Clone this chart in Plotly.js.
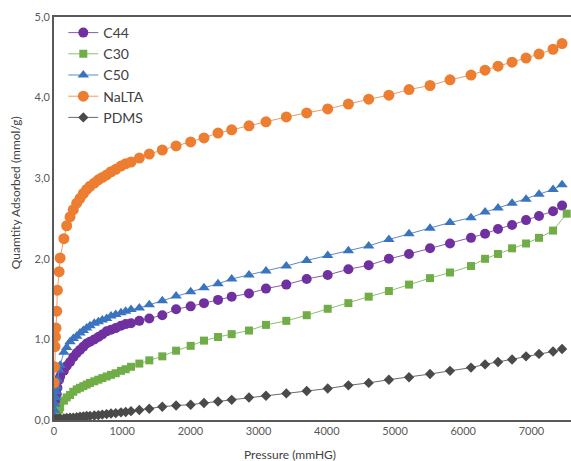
<!DOCTYPE html>
<html>
<head>
<meta charset="utf-8">
<script src="https://cdn.plot.ly/plotly-3.0.1.min.js"></script>
<style>html,body{margin:0;padding:0;background:#fff;}#chart{width:571px;height:461px;}</style>
</head>
<body>
<div id="chart"></div>
<script>
// Pressure grid (mmHg)
const pressure = [3,8,15,22,30,40,50,75,90,145,186,235,283,333,381,430,479,528,591,650,708,772,836,905,982,1051,1129,1251,1397,1588,1790,2004,2199,2405,2605,2859,3108,3406,3705,4013,4316,4614,4910,5205,5513,5806,6114,6320,6510,6716,6921,7111,7317,7449];
const pressureC30 = [3,8,15,22,30,40,50,75,90,145,186,235,283,333,381,430,479,528,591,650,708,772,836,905,982,1051,1129,1251,1397,1588,1790,2004,2199,2405,2605,2859,3108,3406,3705,4013,4316,4614,4910,5205,5513,5806,6114,6320,6510,6716,6921,7111,7317,7517];

const c44 = [0.03,0.08,0.14,0.20,0.26,0.32,0.40,0.50,0.54,0.61,0.67,0.72,0.78,0.83,0.87,0.91,0.95,0.97,1.00,1.03,1.06,1.10,1.12,1.14,1.17,1.19,1.20,1.23,1.26,1.30,1.375,1.41,1.45,1.49,1.53,1.57,1.63,1.68,1.75,1.80,1.87,1.92,2.00,2.06,2.13,2.19,2.26,2.31,2.37,2.42,2.48,2.53,2.59,2.66];
const c30 = [0.01,0.02,0.03,0.04,0.05,0.07,0.09,0.13,0.16,0.24,0.28,0.31,0.35,0.38,0.40,0.42,0.44,0.46,0.48,0.50,0.52,0.54,0.56,0.58,0.61,0.63,0.66,0.70,0.74,0.79,0.86,0.92,0.985,1.03,1.065,1.11,1.18,1.23,1.30,1.38,1.45,1.53,1.60,1.68,1.76,1.83,1.91,2.00,2.06,2.13,2.19,2.26,2.35,2.56];
const c50 = [0.05,0.12,0.20,0.28,0.35,0.41,0.50,0.62,0.68,0.84,0.90,0.97,1.01,1.04,1.08,1.11,1.14,1.17,1.20,1.22,1.24,1.26,1.29,1.31,1.33,1.35,1.37,1.39,1.43,1.48,1.54,1.59,1.64,1.69,1.75,1.80,1.85,1.91,1.98,2.04,2.10,2.16,2.24,2.31,2.38,2.45,2.51,2.58,2.63,2.69,2.74,2.80,2.86,2.92];
const nalta = [0.46,0.66,0.91,1.03,1.14,1.35,1.61,1.84,2.01,2.25,2.41,2.52,2.61,2.69,2.75,2.81,2.86,2.90,2.94,2.98,3.01,3.04,3.08,3.11,3.15,3.18,3.20,3.25,3.30,3.35,3.40,3.45,3.50,3.56,3.60,3.65,3.70,3.76,3.81,3.86,3.92,3.98,4.03,4.10,4.15,4.22,4.28,4.34,4.39,4.44,4.49,4.54,4.60,4.67];
const pdms = [0.0,0.0,0.005,0.005,0.01,0.01,0.01,0.015,0.02,0.02,0.025,0.03,0.03,0.035,0.04,0.045,0.05,0.05,0.055,0.06,0.067,0.073,0.08,0.085,0.095,0.10,0.11,0.124,0.14,0.165,0.18,0.19,0.21,0.23,0.25,0.28,0.30,0.33,0.36,0.39,0.43,0.46,0.50,0.53,0.57,0.61,0.65,0.69,0.72,0.75,0.79,0.82,0.85,0.88];

const seriesNames = ["C44","C30","C50","NaLTA","PDMS"];
const xTitle = "Pressure (mmHG)";
const yTitle = "Quamtity Adsorbed (mmol/g)";

function tr(name, x, y, color, lineColor, symbol, size) {
  return {
    type: "scatter", mode: "lines+markers", name: name, x: x, y: y,
    line: {color: lineColor, width: 1},
    marker: {color: color, symbol: symbol, size: size, line: {width: 0}}
  };
}

const data = [
  tr(seriesNames[0], pressure, c44, "#7030A0", "#8a5ab0", "circle", 10),
  tr(seriesNames[1], pressureC30, c30, "#70AD47", "#8cbf6c", "square", 8),
  tr(seriesNames[2], pressure, c50, "#3A74BE", "#5a8ac8", "triangle-up", 10),
  tr(seriesNames[3], pressure, nalta, "#ED7D31", "#f09a60", "circle", 11),
  tr(seriesNames[4], pressure, pdms, "#4a4a4a", "#6a6a6a", "diamond", 8)
];

const layout = {
  width: 571, height: 461,
  margin: {l: 54, r: 0, t: 17, b: 41},
  paper_bgcolor: "#fff", plot_bgcolor: "#fff",
  separators: ", ",
  font: {family: "Lato, 'Open Sans', sans-serif", color: "#595959", size: 11},
  showlegend: true,
  legend: {x: 0.018, y: 1, xanchor: "left", yanchor: "top", bgcolor: "rgba(255,255,255,0)",
           font: {size: 14, color: "#404040"}},
  xaxis: {
    range: [0, 7580], dtick: 1000, tick0: 0, showgrid: false, zeroline: false,
    showline: true, linecolor: "#595959", linewidth: 2, mirror: true,
    ticks: "", tickfont: {size: 11, color: "#595959"}
  },
  yaxis: {
    range: [0, 5], dtick: 1, tick0: 0, tickformat: ".1f", showgrid: false, zeroline: false,
    showline: true, linecolor: "#595959", linewidth: 2,
    ticks: "", tickfont: {size: 11, color: "#595959"}
  },
  annotations: [
    {text: xTitle, xref: "paper", yref: "paper", x: (290-54)/517, y: -0.085, xanchor: "center", yanchor: "middle",
     showarrow: false, font: {size: 12, color: "#404040"}},
    {text: yTitle, xref: "paper", yref: "paper", x: -0.075, y: (420-193)/403, xanchor: "center", yanchor: "middle",
     textangle: -90, showarrow: false, font: {size: 12, color: "#404040"}}
  ]
};

Plotly.newPlot("chart", data, layout, {displayModeBar: false, staticPlot: true});
</script>
</body>
</html>
